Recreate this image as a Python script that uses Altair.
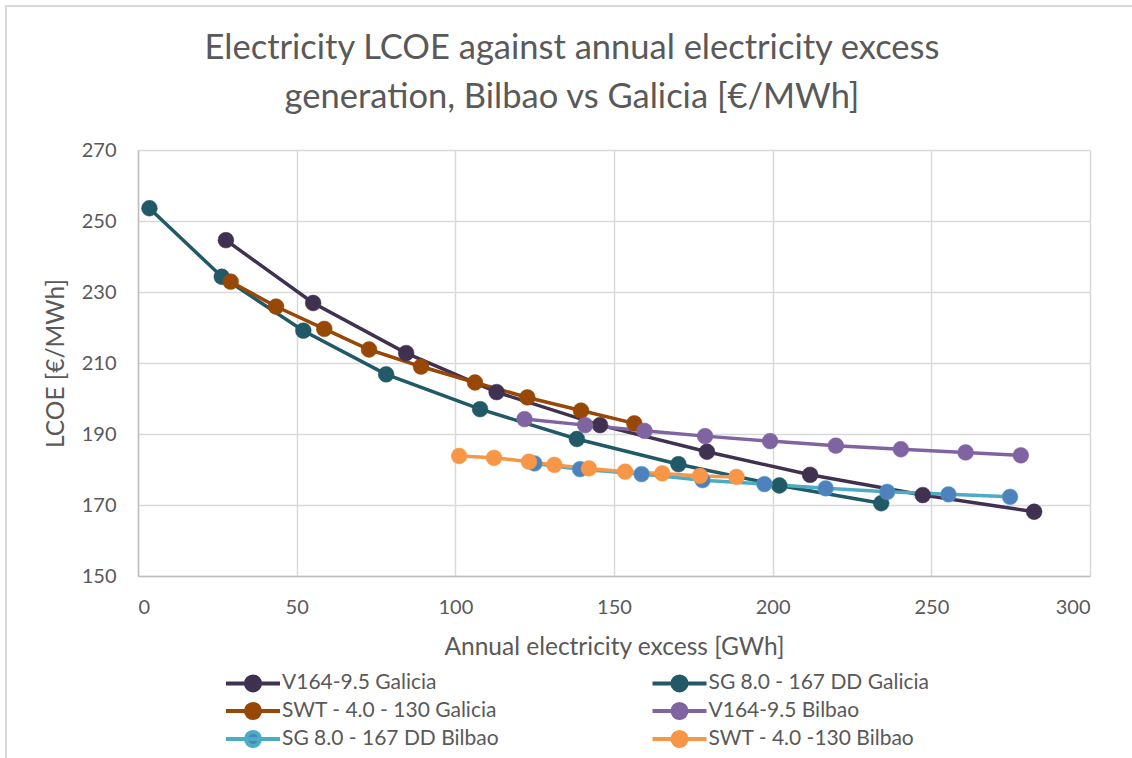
import altair as alt
import pandas as pd

# ---- data ----
series = [
    "V164-9.5 Galicia",
    "SG 8.0 - 167 DD Galicia",
    "SWT - 4.0 - 130 Galicia",
    "V164-9.5 Bilbao",
    "SG 8.0 - 167 DD Bilbao",
    "SWT - 4.0 -130 Bilbao",
]
line_colors = ["#403151", "#215967", "#974706", "#8064A2", "#4BACC6", "#F79646"]
marker_colors = ["#403151", "#215967", "#974706", "#8064A2", "#4F81BD", "#F79646"]

v164_galicia_x = [27.7, 55.2, 84.5, 113.0, 145.6, 179.3, 211.8, 247.3, 282.4]
v164_galicia_y = [244.6, 226.9, 212.8, 201.8, 192.5, 185.0, 178.5, 172.8, 168.1]

sg_galicia_x = [3.6, 26.4, 52.1, 78.2, 107.8, 138.3, 170.3, 202.1, 234.2]
sg_galicia_y = [253.6, 234.3, 219.1, 206.8, 197.0, 188.6, 181.5, 175.5, 170.5]

swt_galicia_x = [29.2, 43.5, 58.7, 72.8, 89.2, 106.2, 122.7, 139.6, 156.4]
swt_galicia_y = [232.9, 225.9, 219.6, 213.8, 209.0, 204.5, 200.3, 196.6, 193.0]

v164_bilbao_x = [121.8, 140.9, 159.6, 178.7, 199.2, 219.9, 240.4, 260.8, 278.2]
v164_bilbao_y = [194.2, 192.5, 190.9, 189.4, 188.0, 186.7, 185.7, 184.8, 184.0]

sg_bilbao_x = [124.9, 139.3, 158.7, 177.9, 197.4, 216.7, 236.1, 255.4, 274.8]
sg_bilbao_y = [181.7, 180.1, 178.7, 177.0, 175.9, 174.7, 173.7, 173.0, 172.3]

swt_bilbao_x = [101.2, 112.2, 123.2, 131.2, 142.1, 153.5, 165.2, 177.1, 188.6]
swt_bilbao_y = [183.8, 183.3, 182.2, 181.3, 180.3, 179.4, 178.9, 178.2, 177.9]

x_ticks = [0, 50, 100, 150, 200, 250, 300]
y_ticks = [150, 170, 190, 210, 230, 250, 270]

# ---- long table ----
pairs = [
    (v164_galicia_x, v164_galicia_y),
    (sg_galicia_x, sg_galicia_y),
    (swt_galicia_x, swt_galicia_y),
    (v164_bilbao_x, v164_bilbao_y),
    (sg_bilbao_x, sg_bilbao_y),
    (swt_bilbao_x, swt_bilbao_y),
]
rows = []
for i, (name, (xs, ys)) in enumerate(zip(series, pairs)):
    for j, (xv, yv) in enumerate(zip(xs, ys)):
        rows.append({"series": name, "order": i * 100 + j, "x": xv, "y": yv})
df = pd.DataFrame(rows)

FONT = "Lato"
TXT = "#595959"
GRID = "#D9D9D9"

# symbol: 54 px line with a filled circle in its middle (scale unit = 9 px)
legend_symbol = "M-1,0L5,0M2.78,0A0.78,0.78,0,1,1,1.22,0A0.78,0.78,0,1,1,2.78,0Z"

legend = alt.Legend(
    title=None,
    orient="none",
    direction="horizontal",
    legendX=86,
    legendY=522,
    columns=2,
    columnPadding=145.5,
    rowPadding=-4,
    symbolType=legend_symbol,
    symbolSize=324,
    symbolStrokeWidth=4,
    labelFont=FONT,
    labelFontSize=21,
    labelColor=TXT,
    labelOffset=36,
    labelLimit=400,
)

x_enc = alt.X(
    "x:Q",
    scale=alt.Scale(domain=[0, 300], nice=False, zero=False),
    axis=alt.Axis(values=x_ticks, title="Annual electricity excess [GWh]"),
)
y_enc = alt.Y(
    "y:Q",
    scale=alt.Scale(domain=[150, 270], nice=False, zero=False),
    axis=alt.Axis(values=y_ticks, title="LCOE [€/MWh]"),
)

stroke_enc = alt.Stroke(
    "series:N",
    scale=alt.Scale(domain=series, range=line_colors),
    legend=legend,
)
fill_enc = alt.Fill(
    "series:N",
    scale=alt.Scale(domain=series, range=marker_colors),
    legend=legend,
)

lines = alt.Chart(df).mark_line(strokeWidth=3.5).encode(
    x=x_enc, y=y_enc, stroke=stroke_enc, detail="series:N", order="order:Q"
)
points = alt.Chart(df).mark_point(filled=True, size=250, opacity=1, strokeWidth=0.5).encode(
    x=x_enc, y=y_enc, fill=fill_enc, stroke=stroke_enc, order="order:Q"
)

frame = alt.Chart(df).mark_rect(fill="transparent", stroke=GRID, strokeWidth=2).encode(
    x=alt.value(-132), x2=alt.value(1010), y=alt.value(-144), y2=alt.value(620)
)

chart = (
    alt.layer(frame, lines, points)
    .properties(
        width=952,
        height=426,
        autosize=alt.AutoSizeParams(type="none"),
        padding={"left": 138, "top": 150, "right": 42, "bottom": 182},
        title=alt.Title(
            text=[
                "Electricity LCOE against annual electricity excess",
                "generation, Bilbao vs Galicia [€/MWh]",
            ],
            font=FONT,
            fontSize=34.5,
            fontWeight="normal",
            color=TXT,
            lineHeight=49,
            anchor="middle",
            frame="group",
            dx=-42,
            offset=-110,
        ),
    )
    .configure_view(stroke="transparent")
    .configure_axis(
        labelFont=FONT,
        labelFontSize=20,
        labelColor=TXT,
        titleFont=FONT,
        titleFontSize=24.5,
        titleFontWeight="normal",
        titleColor=TXT,
        gridColor=GRID,
        gridWidth=1.5,
        domainColor="#BFBFBF",
        domainWidth=1.5,
        ticks=False,
    )
    .configure_axisX(labelPadding=21, titlePadding=18)
    .configure_axisY(labelPadding=22, titlePadding=13)
)

chart.save("out.html", embed_options={"renderer": "svg", "actions": False})
